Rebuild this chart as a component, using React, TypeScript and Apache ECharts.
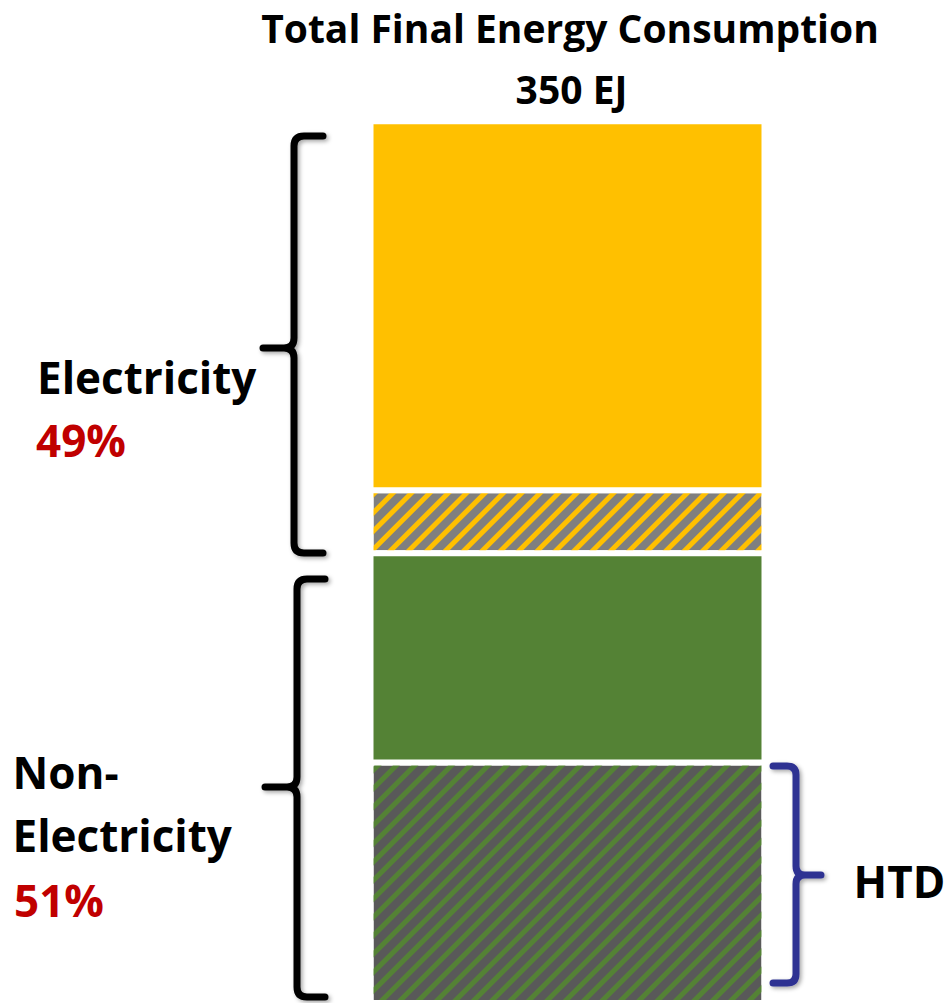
import React, { useEffect, useRef } from "react";
import * as echarts from "echarts";

// ---- data (EJ) ----
const categories = ["Total Final Energy Consumption"];
const htdValues = [95.5]; // non-electricity, high-temperature demand (hatched green)
const nonElecOtherValues = [83]; // non-electricity, other (solid green)
const elecHatchedValues = [25]; // electricity, hatched part
const elecSolidValues = [146.5]; // electricity, solid part
const titleLines = ["Total Final Energy Consumption", "350 EJ"];
const groupLabels = ["Electricity", "Non-", "Electricity", "HTD"];
const shareLabels = ["49%", "51%"];

const FONT = "'Open Sans', 'DejaVu Sans', sans-serif";

function leftBrace(x0: number, xe: number, xc: number, yt: number, ym: number, yb: number, r: number) {
  return [
    `M ${xe} ${yt} L ${x0 + r} ${yt} Q ${x0} ${yt} ${x0} ${yt + r}`,
    `L ${x0} ${ym - r} Q ${x0} ${ym} ${x0 - r} ${ym} L ${xc} ${ym}`,
    `M ${x0 - r} ${ym} Q ${x0} ${ym} ${x0} ${ym + r}`,
    `L ${x0} ${yb - r} Q ${x0} ${yb} ${x0 + r} ${yb} L ${xe} ${yb}`,
  ].join(" ");
}

function rightBrace(x0: number, xe: number, xc: number, yt: number, ym: number, yb: number, r: number) {
  return [
    `M ${xe} ${yt} L ${x0 - r} ${yt} Q ${x0} ${yt} ${x0} ${yt + r}`,
    `L ${x0} ${ym - r} Q ${x0} ${ym} ${x0 + r} ${ym} L ${xc} ${ym}`,
    `M ${x0 + r} ${ym} Q ${x0} ${ym} ${x0} ${ym + r}`,
    `L ${x0} ${yb - r} Q ${x0} ${yb} ${x0 - r} ${yb} L ${xe} ${yb}`,
  ].join(" ");
}

export default function App() {
  const ref = useRef<HTMLDivElement>(null);

  useEffect(() => {
    if (!ref.current) return;
    echarts.graphic.registerShape(
      "braceElec",
      echarts.graphic.extendPath(leftBrace(294, 323, 263, 136, 348, 553, 10), {})
    );
    echarts.graphic.registerShape(
      "braceNonElec",
      echarts.graphic.extendPath(leftBrace(297, 325, 265, 579, 787, 997, 10), {})
    );
    echarts.graphic.registerShape(
      "braceHTD",
      echarts.graphic.extendPath(rightBrace(796, 773, 821, 766, 875, 983, 9), {})
    );

    const chart = echarts.init(ref.current, undefined, { renderer: "svg" });

    const shadow = {
      shadowBlur: 4,
      shadowColor: "rgba(0,0,0,0.35)",
      shadowOffsetX: 2,
      shadowOffsetY: 2,
    };
    const braceStyle = (color: string) => ({
      fill: "none",
      stroke: color,
      lineWidth: 7,
      lineCap: "round",
      lineJoin: "round",
      ...shadow,
    });
    const txt = (
      text: string,
      x: number,
      y: number,
      size: number,
      color = "#000",
      align = "left"
    ) => ({
      type: "text",
      x,
      y,
      style: {
        text,
        fontSize: size,
        fontWeight: "bold",
        fontFamily: FONT,
        fill: color,
        align,
        verticalAlign: "middle",
      },
    });

    const hatch = (stripe: string, bg: string) => ({
      symbol: "rect",
      symbolSize: 1,
      symbolKeepAspect: false,
      dashArrayX: [1, 0],
      dashArrayY: [5, 8],
      rotation: -Math.PI / 4,
      color: stripe,
      backgroundColor: bg,
    });

    const barBase = {
      type: "bar",
      stack: "total",
      barWidth: 394,
    };

    chart.setOption({
      animation: false,
      backgroundColor: "#ffffff",
      grid: { left: 370, width: 395, top: 121.2, height: 887.3 },
      xAxis: { type: "category", data: categories, show: false },
      yAxis: { type: "value", min: 0, max: 350, show: false },
      series: [
        {
          ...barBase,
          name: "HTD",
          data: htdValues,
          itemStyle: {
            color: "#595959",
            borderColor: "#ffffff",
            borderWidth: 3,
            decal: hatch("#548235", "#595959"),
          },
        },
        {
          ...barBase,
          name: "Non-electricity other",
          data: nonElecOtherValues,
          itemStyle: { color: "#548235", borderColor: "#ffffff", borderWidth: 3 },
        },
        {
          ...barBase,
          name: "Electricity hatched",
          data: elecHatchedValues,
          itemStyle: {
            color: "#7F7F7F",
            borderColor: "#ffffff",
            borderWidth: 3,
            decal: hatch("#FFC000", "#7F7F7F"),
          },
        },
        {
          ...barBase,
          name: "Electricity",
          data: elecSolidValues,
          itemStyle: { color: "#FFC000", borderColor: "#ffffff", borderWidth: 3 },
        },
      ],
      graphic: [
        { type: "braceElec", x: 0, y: 0, style: braceStyle("#000000") },
        { type: "braceNonElec", x: 0, y: 0, style: braceStyle("#000000") },
        { type: "braceHTD", x: 0, y: 0, style: braceStyle("#2E3192") },
        txt(titleLines[0], 570, 27, 39, "#000", "center"),
        txt(titleLines[1], 571.5, 88, 39, "#000", "center"),
        txt(groupLabels[0], 37, 377, 44),
        txt(shareLabels[0], 36, 440, 44, "#C00000"),
        txt(groupLabels[1], 12.5, 772, 44),
        txt(groupLabels[2], 12.5, 835, 44),
        txt(shareLabels[1], 14, 900, 44, "#C00000"),
        txt(groupLabels[3], 853.5, 881, 44),
      ],
    });

    return () => {
      chart.dispose();
    };
  }, []);

  return (
    <div
      ref={ref}
      style={{ position: "absolute", left: 0, top: 0, width: 948, height: 1003 }}
    />
  );
}
